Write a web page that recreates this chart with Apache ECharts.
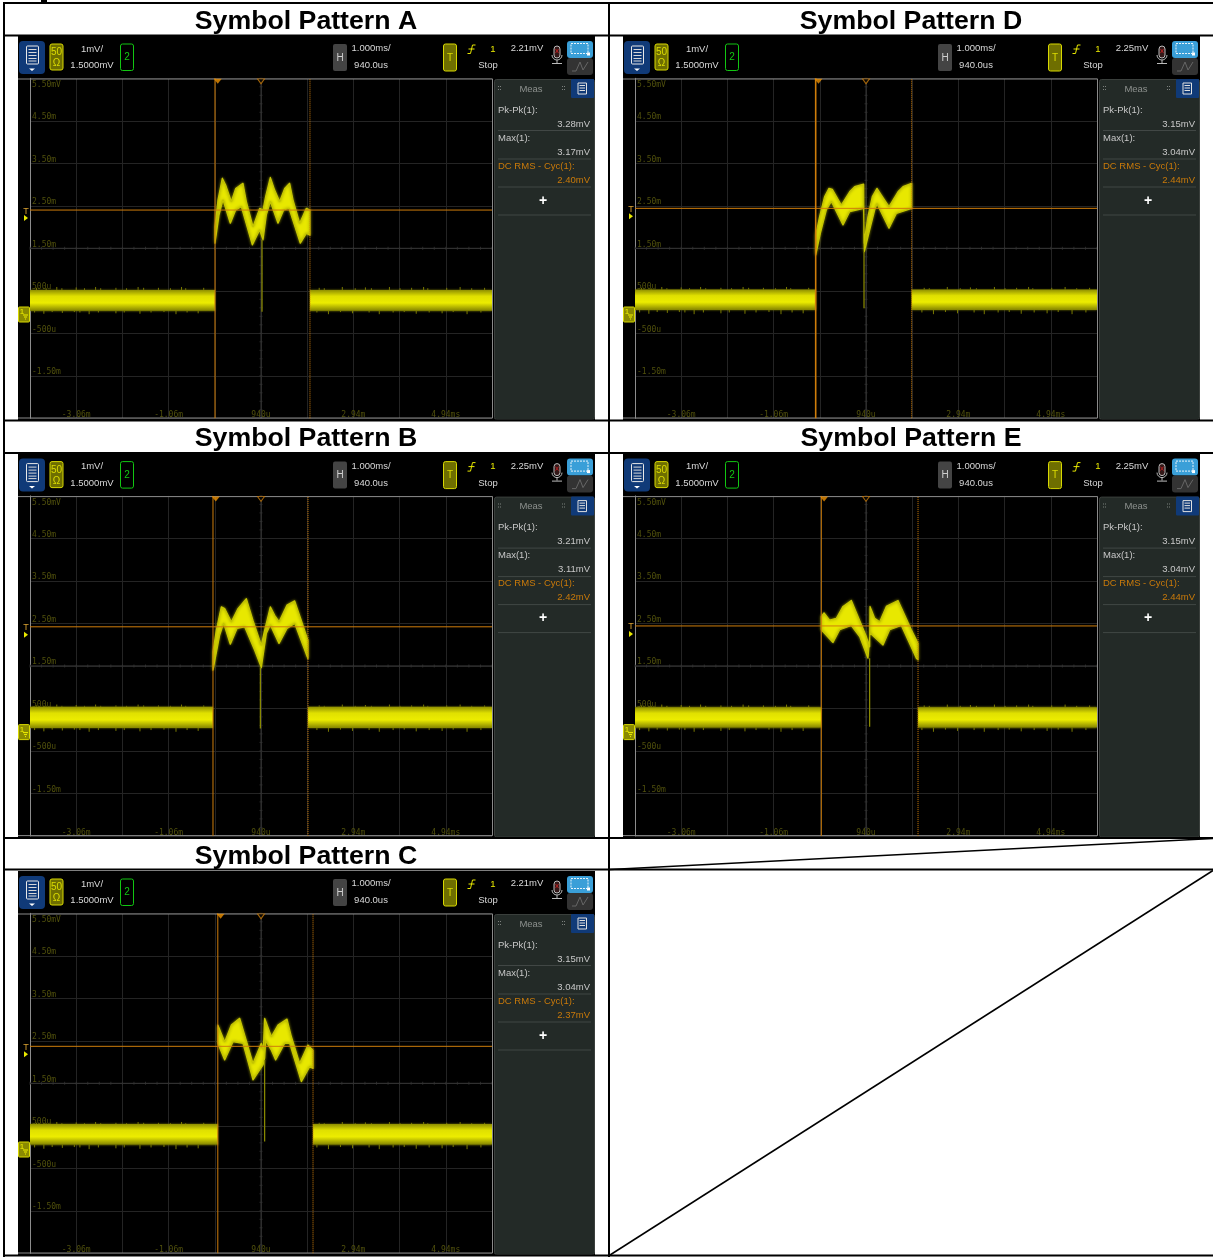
<!DOCTYPE html>
<html><head><meta charset="utf-8">
<style>html,body{margin:0;padding:0;background:#fff}#c{width:1213px;height:1257px}</style>
<script src="https://cdn.jsdelivr.net/npm/echarts@6/dist/echarts.min.js"></script>
</head><body><div id="c"></div>
<script>
// ---- axis ticks (ms, mV) ----
const xTickValues = [-4.06,-3.06,-2.06,-1.06,-0.06,0.94,1.94,2.94,3.94,4.94,5.94];
const xLabelValues = [-3.06,-1.06,0.94,2.94,4.94];
const xTickLabels = ['-3.06m','-1.06m','940u','2.94m','4.94ms'];
const yTickValues = [-2.5,-1.5,-0.5,0.5,1.5,2.5,3.5,4.5,5.5];
const yLabelValues = [-1.5,-0.5,0.5,1.5,2.5,3.5,4.5,5.5];
const yTickLabels = ['-1.50m','-500u','500u','1.50m','2.50m','3.50m','4.50m','5.50mV'];

// ---- envelopes of the pulses: [ms, mV] ----
const traceAUpper = [[-.056,2.01],[.009,2.64],[.103,3.15],[.175,2.99],[.298,2.60],[.392,2.91],[.55,3.03],[.623,2.60],[.767,2.01],[.911,2.44],[.983,2.40],[1.041,2.72],[1.142,3.17],[1.236,2.87],[1.344,2.60],[1.452,2.91],[1.56,3.03],[1.633,2.64],[1.777,2.09],[1.921,2.44],[2.0,2.40]];
const traceALower = [[-.056,1.62],[.031,2.28],[.117,2.64],[.276,2.09],[.392,2.40],[.514,2.48],[.752,1.58],[.911,1.93],[.983,1.70],[1.055,2.28],[1.142,2.60],[1.308,2.09],[1.431,2.40],[1.546,2.44],[1.791,1.62],[1.921,1.85],[2.0,1.81]];
const traceBUpper = [[-.099,1.83],[-.027,2.34],[.081,2.89],[.154,2.85],[.298,2.54],[.442,2.85],[.623,3.08],[.767,2.57],[.947,1.99],[1.019,2.34],[1.142,2.89],[1.236,2.69],[1.33,2.54],[1.503,2.93],[1.669,3.03],[1.813,2.57],[1.957,2.10]];
const traceBLower = [[-.099,1.40],[.045,2.22],[.132,2.50],[.276,2.01],[.421,2.38],[.586,2.42],[.803,1.87],[.947,1.46],[1.055,2.26],[1.142,2.46],[1.33,2.03],[1.503,2.38],[1.669,2.50],[1.957,1.67]];
const traceCUpper = [[.005,2.87],[.154,2.48],[.298,2.87],[.478,3.03],[.586,2.64],[.767,1.97],[.947,2.44],[.99,2.30],[1.019,3.03],[1.164,2.60],[1.308,2.87],[1.503,3.01],[1.597,2.60],[1.777,1.97],[1.957,2.40],[2.066,2.28]];
const traceCLower = [[.005,2.44],[.154,2.05],[.334,2.48],[.55,2.44],[.767,1.58],[.983,1.93],[1.019,2.09],[1.041,2.50],[1.164,2.28],[1.257,2.05],[1.452,2.44],[1.56,2.44],[1.813,1.54],[1.993,1.89],[2.066,1.85]];
const traceDUpper = [[-.149,1.81],[-.063,2.25],[.045,2.72],[.139,2.91],[.211,2.89],[.406,2.52],[.586,2.83],[.695,2.95],[.889,3.01],[.897,1.62],[.983,2.25],[1.077,2.72],[1.178,2.91],[1.272,2.75],[1.438,2.48],[1.633,2.83],[1.741,2.95],[1.928,3.03]];
const traceDLower = [[-.149,1.34],[-.048,1.85],[.081,2.40],[.19,2.60],[.442,2.05],[.586,2.36],[.889,2.44],[.904,1.42],[1.019,1.93],[1.128,2.40],[1.178,2.55],[1.438,1.97],[1.597,2.32],[1.928,2.44]];
const traceEUpper = [[-.027,2.66],[.031,2.75],[.154,2.58],[.298,2.62],[.442,2.90],[.623,3.04],[.767,2.66],[.947,2.19],[1.019,1.95],[1.027,2.90],[1.128,2.62],[1.236,2.54],[1.38,2.90],[1.633,3.04],[1.777,2.70],[1.921,2.35],[2.066,2.03]];
const traceELower = [[-.027,2.35],[.226,2.05],[.37,2.35],[.623,2.45],[.803,2.19],[.983,1.68],[1.027,2.27],[1.308,1.99],[1.452,2.35],[1.705,2.45],[2.03,1.68],[2.066,1.64]];

// ---- idle level noise spikes: [ms, mV] ----
const noiseHigh = [[-3.92,.57],[-3.71,.56],[-3.48,.59],[-3.37,.56],[-3.06,.58],[-2.88,.56],[-2.64,.59],[-2.53,.56],[-2.2,.57],[-1.97,.56],[-1.72,.59],[-1.6,.57],[-1.28,.57],[-1.02,.56],[-.78,.59],[-.69,.56],[-.3,.57],[2.2,.57],[2.31,.56],[2.7,.59],[2.98,.56],[3.2,.58],[3.33,.56],[3.72,.59],[3.95,.56],[4.2,.57],[4.46,.59],[4.55,.56],[4.96,.57],[5.25,.59],[5.5,.56],[5.78,.57]];
const noiseLow = [[-3.96,-.01],[-3.76,-.04],[-3.58,0],[-3.36,-.02],[-3.1,.0],[-2.98,-.01],[-2.78,-.05],[-2.58,-.01],[-2.2,-.03],[-2.02,-.01],[-1.68,-.04],[-1.44,-.01],[-1.16,0],[-.9,-.05],[-.66,-.01],[-.42,-.03],[2.15,-.01],[2.4,-.05],[2.66,0],[2.92,-.03],[3.28,-.01],[3.5,-.05],[3.8,-.01],[4.04,0],[4.3,-.04],[4.58,-.01],[4.86,-.03],[5.1,0],[5.4,-.05],[5.7,-.01]];

// ---- panels ----
const panelNames = ['Symbol Pattern A','Symbol Pattern B','Symbol Pattern C','Symbol Pattern D','Symbol Pattern E'];
const traceUppers = [traceAUpper,traceBUpper,traceCUpper,traceDUpper,traceEUpper];
const traceLowers = [traceALower,traceBLower,traceCLower,traceDLower,traceELower];
const cursorStart = [-.056,-.099,.005,-.149,-.027];
const cursorEnd = [2.0,1.957,2.066,1.928,2.066];
const rmsLevel = [2.40,2.42,2.37,2.44,2.44];
const dropoutTime = [.962,.926,1.019,.897,1.019];
const dropoutTop = [1.70,1.46,2.05,1.42,1.68];
const dropoutBottom = [.01,.03,.13,.09,.07];
const idleHigh = [.52,.54,.54,.53,.53];
const idleLow = [.03,.04,.06,.05,.05];
const triggerText = ['2.21mV','2.25mV','2.21mV','2.25mV','2.25mV'];
const pkpkText = ['3.28mV','3.21mV','3.15mV','3.15mV','3.15mV'];
const maxText = ['3.17mV','3.11mV','3.04mV','3.04mV','3.04mV'];
const rmsText = ['2.40mV','2.42mV','2.37mV','2.44mV','2.44mV'];
const offsetX = [0,0,0,605,605];
const offsetY = [0,417.6,835,0,417.6];

const X0=-4.06, X1=5.94, Y0=-2.5, Y1=5.5;
const ORANGE='#cf7d0a', LABEL='#50500c', UI='Liberation Sans';

const grids=[],xAxes=[],yAxes=[],series=[],gfx=[],titles=[];

function bandItem(points,style){
  return function(params,api){
    if(params.dataIndex!==0) return null;
    const pts=points.map(p=>api.coord(p));
    const st=typeof style==='function'?style():style;
    return {type:'polygon',shape:{points:pts},style:st,silent:true};
  };
}
function bandSeries(g,upper,lower,style,z){
  const pts=upper.concat(lower.slice().reverse());
  return {type:'custom',xAxisIndex:g,yAxisIndex:g,coordinateSystem:'cartesian2d',clip:true,z:z,silent:true,
    data:pts,encode:{x:0,y:1},renderItem:bandItem(pts,style),animation:false};
}
function lineSeries(g,data,color,width,type,z){
  return {type:'line',xAxisIndex:g,yAxisIndex:g,data:data,symbol:'none',silent:true,z:z,animation:false,
    lineStyle:{color:color,width:width,type:type||'solid'}};
}
function T(x,y,text,fill,size,align,weight){
  gfx.push({type:'text',z:6,silent:true,style:{text:text,x:x,y:y,fill:fill||'#d9d9d9',
    font:(weight?weight+' ':'')+(size||9.5)+'px "'+UI+'"',align:align||'center',verticalAlign:'middle'}});
}
function R(x,y,w,h,fill,stroke,r,z){
  gfx.push({type:'rect',z:z===undefined?5:z,silent:true,shape:{x:x,y:y,width:w,height:h,r:r||0},
    style:{fill:fill,stroke:stroke||null,lineWidth:stroke?1:0}});
}
function L(x1,y1,x2,y2,c,w,z){
  gfx.push({type:'line',z:z===undefined?6:z,silent:true,shape:{x1:x1,y1:y1,x2:x2,y2:y2},style:{stroke:c,lineWidth:w||1}});
}
function P(points,fill,stroke){
  gfx.push({type:'polygon',z:6,silent:true,shape:{points:points},style:{fill:fill||'none',stroke:stroke||null,lineWidth:1}});
}

panelNames.forEach(function(name,i){
  const ox=offsetX[i], oy=offsetY[i];
  const left=30+ox, top=78.3+oy, W=462, H=340;
  grids.push({left:left,top:top,width:W,height:H,containLabel:false});
  xAxes.push({type:'value',gridIndex:i,min:X0,max:X1,
    axisLine:{show:false},splitLine:{show:true,lineStyle:{color:'#242424',width:1}},
    axisTick:{show:false,customValues:xTickValues},
    axisLabel:{show:true,inside:true,margin:-1,customValues:xLabelValues,color:LABEL,
      fontFamily:'DejaVu Sans Mono',fontSize:8,hideOverlap:false,
      formatter:function(v){return xTickLabels[xLabelValues.indexOf(v)];}}});
  yAxes.push({type:'value',gridIndex:i,min:Y0,max:Y1,
    axisLine:{show:true,onZero:false,lineStyle:{color:'#8c8c8c',width:1}},
    splitLine:{show:true,lineStyle:{color:'#242424',width:1}},
    axisTick:{show:false,customValues:yTickValues},
    axisLabel:{show:true,inside:true,margin:2,customValues:yLabelValues,color:LABEL,
      fontFamily:'DejaVu Sans Mono',fontSize:8,verticalAlign:'middle',verticalAlignMaxLabel:'top',padding:[0,0,7,0],hideOverlap:false,
      rich:{t:{padding:[3,0,0,0],color:LABEL,fontFamily:'DejaVu Sans Mono',fontSize:8}},
      formatter:function(v){const s=yTickLabels[yLabelValues.indexOf(v)];return v===Y1?'{t|'+s+'}':s;}}});

  // graticule centre lines with their small ticks
  series.push(lineSeries(i,[[X0,1.5],[X1,1.5]],'#343434',1,null,1));
  series.push(lineSeries(i,[[.94,Y0],[.94,Y1]],'#343434',1,null,1));
  const hTicks=[],vTicks=[];
  for(let k=0;k<=40;k++) hTicks.push([X0+k*.25,1.5]);
  for(let k=0;k<=40;k++) vTicks.push([.94,Y0+k*.2]);
  series.push({type:'scatter',xAxisIndex:i,yAxisIndex:i,data:hTicks,symbol:'rect',symbolSize:[1,3],silent:true,z:1,animation:false,itemStyle:{color:'#333'}});
  series.push({type:'scatter',xAxisIndex:i,yAxisIndex:i,data:vTicks,symbol:'rect',symbolSize:[3,1],silent:true,z:1,animation:false,itemStyle:{color:'#333'}});

  // noise spikes
  const within=function(p){return p[0]<cursorStart[i]-.03||p[0]>cursorEnd[i]+.03;};
  [[noiseHigh,idleHigh[i]],[noiseLow,idleLow[i]]].forEach(function(nn){
    series.push({type:'custom',xAxisIndex:i,yAxisIndex:i,clip:true,z:2,silent:true,animation:false,
      data:nn[0].filter(within),encode:{x:0,y:1},
      renderItem:function(params,api){
        const a=api.coord([api.value(0),api.value(1)]),b=api.coord([api.value(0),nn[1]]);
        return {type:'line',shape:{x1:a[0],y1:a[1],x2:b[0],y2:b[1]},style:{stroke:'#7a7a00',lineWidth:1},silent:true};
      }});
  });
  // idle level bands
  const idleStyle=function(){return {fill:new echarts.graphic.LinearGradient(0,0,0,1,[
    {offset:0,color:'#8f8f00'},{offset:.3,color:'#e0e000'},{offset:.62,color:'#ecec00'},{offset:1,color:'#858500'}]),
    shadowBlur:2,shadowColor:'#7a7a00'};};
  series.push(bandSeries(i,[[X0,idleHigh[i]],[cursorStart[i],idleHigh[i]]],[[X0,idleLow[i]],[cursorStart[i],idleLow[i]]],idleStyle,3));
  series.push(bandSeries(i,[[cursorEnd[i],idleHigh[i]],[X1,idleHigh[i]]],[[cursorEnd[i],idleLow[i]],[X1,idleLow[i]]],idleStyle,3));
  // pulse
  series.push(bandSeries(i,traceUppers[i],traceLowers[i],{fill:'#e8e800',stroke:'#c6c600',lineWidth:1.2,lineJoin:'round',shadowBlur:3,shadowColor:'#8a8a00'},4));
  // drop-out line
  series.push(lineSeries(i,[[dropoutTime[i],dropoutTop[i]],[dropoutTime[i],dropoutBottom[i]]],'#8f8f00',1.2,null,4));
  // cursors and level
  series.push(lineSeries(i,[[cursorStart[i],Y0],[cursorStart[i],Y1]],ORANGE,i===3?1.6:1,null,5));
  series.push(lineSeries(i,[[cursorEnd[i],Y0],[cursorEnd[i],Y1]],ORANGE,1,'dotted',5));
  series.push(lineSeries(i,[[X0,rmsLevel[i]],[X1,rmsLevel[i]]],ORANGE,1,null,5));
  // top markers
  series.push({type:'scatter',xAxisIndex:i,yAxisIndex:i,clip:false,silent:true,z:6,animation:false,
    data:[[cursorStart[i]+.06,Y1]],symbol:'triangle',symbolRotate:180,symbolSize:[8,5],symbolOffset:[0,3],itemStyle:{color:'#ee9000'}});
  series.push({type:'scatter',xAxisIndex:i,yAxisIndex:i,clip:false,silent:true,z:6,animation:false,
    data:[[.94,Y1]],symbol:'triangle',symbolRotate:180,symbolSize:[7,5],symbolOffset:[0,3],itemStyle:{color:'#000',borderColor:'#c87a0a',borderWidth:1}});

  titles.push({text:name,left:306+ox,top:oy+8,padding:0,textAlign:'center',
    textStyle:{fontFamily:UI,fontWeight:'bold',fontSize:26.7,color:'#000'}});

  // ---- scope chrome ----
  const X=x=>x+ox, Y=y=>y+oy;
  R(X(18),Y(36),577,384,'#000',null,0,-10);
  // frame
  L(X(18),Y(79),X(492.5),Y(79),'#8a8a8a',1,3);
  L(X(18),Y(418),X(492.5),Y(418),'#8a8a8a',1,3);
  L(X(492.5),Y(79),X(492.5),Y(418),'#8a8a8a',1,3);
  // menu button
  R(X(19),Y(41),26,33,'#103a78',null,4);
  R(X(26.5),Y(46),12,18,'none','#e8e8e8',1);
  [49.5,52.5,55.5,58.5,61].forEach(y=>L(X(28.5),Y(y),X(36.5),Y(y),'#d8d8d8',1));
  P([[X(29),Y(68.5)],[X(35),Y(68.5)],[X(32),Y(71)]],'#fff');
  // channel
  R(X(50),Y(44),13,26,'#6e6e00','#d8d800',2);
  T(X(56.5),Y(52.5),'50','#dcdc00',10);
  T(X(56.5),Y(63.5),'Ω','#dcdc00',10);
  T(X(92),Y(49),'1mV/');
  T(X(92),Y(65.5),'1.5000mV');
  R(X(120.5),Y(44),13,26.5,'#000','#12c612',2);
  T(X(127),Y(57.5),'2','#12c612',10);
  // horizontal
  R(X(333),Y(44),14,27,'#444',null,2);
  T(X(340),Y(58),'H','#d0d0d0',10);
  T(X(371),Y(48.5),'1.000ms/');
  T(X(371),Y(65.5),'940.0us');
  // trigger
  R(X(443.5),Y(44),13,27,'#6e6e00','#d8d800',2);
  T(X(450),Y(58),'T','#dcdc00',10);
  L(X(467.5),Y(53.5),X(470.5),Y(53.5),'#e8e800',1);
  L(X(470.5),Y(53.5),X(472.5),Y(45),'#e8e800',1);
  L(X(472.5),Y(45),X(475.5),Y(45),'#e8e800',1);
  L(X(468.5),Y(49),X(474.5),Y(49),'#e8e800',1);
  T(X(493),Y(49),'1','#e8e800',9.5);
  T(X(527),Y(48.5),triggerText[i]);
  T(X(488),Y(65.5),'Stop');
  // microphone
  R(X(554),Y(46),6,12,'#331818','#bbbbbb',3);
  L(X(555.5),Y(49),X(558.5),Y(53),'#b02020',1);
  L(X(555.5),Y(53),X(558.5),Y(49),'#b02020',1);
  gfx.push({type:'arc',z:6,silent:true,shape:{cx:X(557),cy:Y(55),r:5,startAngle:0,endAngle:Math.PI},style:{stroke:'#bbb',fill:'none',lineWidth:1}});
  L(X(557),Y(60),X(557),Y(63),'#bbb',1);
  L(X(552),Y(63.5),X(562),Y(63.5),'#bbb',1);
  // right buttons
  R(X(567),Y(41),26,17,'#3a9fd8',null,3);
  R(X(567),Y(58),26,17,'#333',null,3);
  gfx.push({type:'rect',z:6,silent:true,shape:{x:X(571),y:Y(43.5),width:17,height:10},style:{fill:'none',stroke:'#e8f4fb',lineWidth:1,lineDash:[2,1]}});
  R(X(587),Y(52.5),3,3,'#fff');
  L(X(572),Y(71),X(576),Y(71),'#666',1);
  L(X(576),Y(71),X(580),Y(62),'#666',1);
  L(X(580),Y(62),X(583),Y(70),'#666',1);
  L(X(583),Y(70),X(588),Y(62),'#666',1);
  // measurement panel
  R(X(494.5),Y(79.5),100,340,'#232a27','#3a3f3c',2,4);
  R(X(571),Y(79),23,19,'#103a78',null,1);
  R(X(578),Y(83),8.5,11,'none','#e0e0e0',0);
  [85.5,88,90.5].forEach(y=>L(X(579.5),Y(y),X(585),Y(y),'#e0e0e0',1));
  T(X(531),Y(89),'Meas','#8d918e');
  [[498,86],[498,89],[500,86],[500,89],[562,86],[562,89],[564,86],[564,89]].forEach(p=>R(X(p[0]),Y(p[1]),1,1,'#7d817e'));
  T(X(498),Y(110),'Pk-Pk(1):','#c8c8c8',9.5,'left');
  T(X(590),Y(124),pkpkText[i],'#c8c8c8',9.5,'right');
  L(X(498),Y(130.5),X(591),Y(130.5),'#414745',1);
  T(X(498),Y(138),'Max(1):','#c8c8c8',9.5,'left');
  T(X(590),Y(152),maxText[i],'#c8c8c8',9.5,'right');
  L(X(498),Y(159),X(591),Y(159),'#414745',1);
  T(X(498),Y(166),'DC RMS - Cyc(1):','#c97a0a',9.5,'left');
  T(X(590),Y(180),rmsText[i],'#c97a0a',9.5,'right');
  L(X(498),Y(187),X(591),Y(187),'#414745',1);
  T(X(543),Y(201),'+','#fff',14,'center','bold');
  L(X(498),Y(215),X(591),Y(215),'#414745',1);
  // trigger-level marker at the left
  const ly=top+(Y1-rmsLevel[i])/(Y1-Y0)*H;
  T(left-4,ly+1,'T','#d8a030',9);
  P([[left-6,ly+5],[left-6,ly+11],[left-2,ly+8]],'#e8e800');
  // ground reference
  R(X(18.5),Y(307),11,15,'#8a8a00','#d8d800',1);
  T(X(22),Y(312),'1','#f0f000',8);
  L(X(23),Y(315),X(28),Y(315),'#f0f000',1);
  L(X(24),Y(317),X(27),Y(317),'#f0f000',1);
  L(X(25),Y(319),X(26),Y(319),'#f0f000',1);
});

// ---- table borders ----
const B='#000';
function TB(x1,y1,x2,y2,w){L(x1,y1,x2,y2,B,w||2,7);}
TB(4,3,1213,3);
TB(4,35.5,1213,35.5);
TB(4,420.5,1213,420.5);
TB(4,453,1213,453);
TB(4,838,1213,838);
TB(4,869.5,1213,869.5);
TB(4,1255.5,1213,1255.5);
TB(4,2,4,1257);
TB(609,2,609,1257);
TB(610,869.5,1213,838.5,1.5);
TB(610,1255,1213,870.5,1.5);
R(41,0,6,2,B,null,0,7);

const chart=echarts.init(document.getElementById('c'),null,{renderer:'canvas',width:1213,height:1257});
chart.setOption({animation:false,backgroundColor:'#fff',title:titles,grid:grids,xAxis:xAxes,yAxis:yAxes,
  series:series,graphic:{elements:gfx},tooltip:{show:false},legend:{show:false}});
</script></body></html>
